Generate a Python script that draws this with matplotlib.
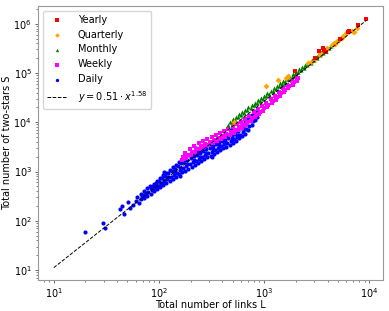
import numpy as np
import matplotlib
matplotlib.use("Agg")
import matplotlib.pyplot as plt

# (log10 L, log10 S) pairs
yearly_pts = [(3.29, 5.05), (3.48, 5.30), (3.52, 5.44), (3.56, 5.51), (3.57, 5.47), (3.59, 5.42),
              (3.72, 5.69), (3.80, 5.83), (3.81, 5.86), (3.89, 5.97), (3.97, 6.10)]

quarterly_pts = [(2.71, 4.01), (3.02, 4.74), (3.13, 4.86), (3.21, 4.90), (3.23, 4.93), (3.42, 5.20),
                 (3.44, 5.22), (3.48, 5.28), (3.53, 5.37), (3.53, 5.40), (3.59, 5.47), (3.60, 5.50),
                 (3.64, 5.57), (3.66, 5.61), (3.67, 5.59), (3.69, 5.64), (3.71, 5.67), (3.74, 5.71),
                 (3.75, 5.76), (3.78, 5.81), (3.83, 5.86), (3.85, 5.84), (3.88, 5.91)]

monthly_pts = [(2.66, 3.95), (2.67, 4.01), (2.69, 4.00), (2.70, 4.06), (2.72, 4.05), (2.73, 4.11),
               (2.75, 4.10), (2.76, 4.16), (2.78, 4.14), (2.79, 4.20), (2.81, 4.19), (2.82, 4.25),
               (2.84, 4.24), (2.85, 4.30), (2.87, 4.29), (2.88, 4.35), (2.90, 4.34), (2.91, 4.40),
               (2.93, 4.39), (2.94, 4.45), (2.96, 4.43), (2.97, 4.49), (2.99, 4.48), (3.00, 4.54),
               (3.02, 4.53), (3.03, 4.59), (3.05, 4.58), (3.06, 4.64), (3.08, 4.63), (3.09, 4.69),
               (3.11, 4.68), (3.12, 4.74), (3.14, 4.73), (3.15, 4.79), (3.17, 4.77), (3.18, 4.83),
               (3.20, 4.82), (3.21, 4.88), (3.23, 4.87), (3.24, 4.93), (3.26, 4.92), (3.27, 4.98),
               (3.29, 4.97), (3.30, 5.03), (3.32, 5.02), (3.33, 5.08), (3.35, 5.07), (3.36, 5.13),
               (3.38, 5.11), (3.39, 5.17), (3.41, 5.16), (3.42, 5.22), (3.44, 5.21), (3.45, 5.27),
               (3.47, 5.26), (3.48, 5.32), (3.50, 5.31), (3.51, 5.37), (3.53, 5.36), (3.54, 5.42),
               (3.56, 5.40), (3.57, 5.46), (3.59, 5.45), (3.60, 5.51), (3.62, 5.50), (3.63, 5.55)]

weekly_pts = [(2.22, 3.24), (2.23, 3.30), (2.26, 3.28), (2.27, 3.34), (2.25, 3.38),
              (2.30, 3.33), (2.31, 3.39), (2.29, 3.45), (2.34, 3.39), (2.35, 3.45), (2.33, 3.51),
              (2.39, 3.45), (2.40, 3.51), (2.38, 3.57), (2.43, 3.49), (2.44, 3.55), (2.42, 3.61),
              (2.47, 3.54), (2.48, 3.60), (2.46, 3.66), (2.51, 3.58), (2.52, 3.64), (2.50, 3.70),
              (2.55, 3.62), (2.56, 3.68), (2.54, 3.74), (2.59, 3.66), (2.60, 3.72), (2.58, 3.78),
              (2.63, 3.70), (2.64, 3.76), (2.62, 3.82), (2.67, 3.74), (2.68, 3.80), (2.66, 3.86),
              (2.71, 3.79), (2.72, 3.85), (2.70, 3.91), (2.75, 3.84), (2.76, 3.90), (2.74, 3.96),
              (2.79, 3.89), (2.80, 3.95), (2.78, 4.01), (2.83, 3.94), (2.84, 4.00), (2.82, 4.06),
              (2.87, 4.02), (2.88, 4.08), (2.86, 4.13), (2.91, 4.10), (2.92, 4.15), (2.90, 4.20),
              (2.95, 4.16), (2.96, 4.21), (2.94, 4.26), (2.99, 4.23), (3.00, 4.28), (2.98, 4.32),
              (3.03, 4.31), (3.04, 4.36), (3.02, 4.39), (3.07, 4.39), (3.08, 4.44), (3.06, 4.47),
              (3.11, 4.46), (3.12, 4.51), (3.10, 4.54), (3.15, 4.54), (3.16, 4.59), (3.14, 4.61),
              (3.19, 4.61), (3.20, 4.66), (3.18, 4.69), (3.23, 4.69), (3.24, 4.74), (3.22, 4.76),
              (3.27, 4.76), (3.28, 4.81), (3.26, 4.83), (3.31, 4.84), (3.32, 4.90), (3.30, 4.91)]

daily_pts = [(1.30, 1.78), (1.47, 1.95), (1.49, 1.86), (1.63, 2.24), (1.65, 2.29), (1.67, 2.13),
             (1.71, 2.38), (1.72, 2.25), (1.75, 2.31), (1.78, 2.40), (1.79, 2.49), (1.81, 2.36),
             (1.83, 2.45), (1.84, 2.50), (1.83, 2.55), (1.86, 2.47), (1.87, 2.53), (1.86, 2.60),
             (1.89, 2.51), (1.90, 2.58), (1.89, 2.66), (1.92, 2.55), (1.93, 2.62), (1.92, 2.67), (1.91, 2.71),
             (1.95, 2.60), (1.96, 2.66), (1.94, 2.70), (1.95, 2.75), (1.98, 2.65), (1.99, 2.71), (1.97, 2.76), (1.98, 2.81),
             (2.01, 2.69), (2.02, 2.75), (2.00, 2.80), (2.01, 2.86), (2.04, 2.73), (2.05, 2.80), (2.03, 2.86), (2.04, 2.92),
             (2.07, 2.77), (2.08, 2.84), (2.06, 2.90), (2.07, 2.97), (2.10, 2.81), (2.11, 2.88), (2.09, 2.96), (2.10, 3.03),
             (2.13, 2.85), (2.14, 2.93), (2.12, 3.01), (2.13, 3.09), (2.16, 2.89), (2.17, 2.97), (2.15, 3.06), (2.16, 3.14),
             (2.19, 2.94), (2.20, 3.03), (2.18, 3.11), (2.19, 3.20), (2.22, 2.99), (2.23, 3.08), (2.21, 3.17), (2.22, 3.26),
             (2.25, 3.02), (2.26, 3.11), (2.24, 3.20), (2.25, 3.29), (2.28, 3.06), (2.29, 3.15), (2.27, 3.24), (2.28, 3.33),
             (2.31, 3.10), (2.32, 3.19), (2.30, 3.27), (2.31, 3.36), (2.34, 3.14), (2.35, 3.22), (2.33, 3.31), (2.34, 3.39),
             (2.37, 3.18), (2.38, 3.26), (2.36, 3.34), (2.37, 3.42), (2.40, 3.21), (2.41, 3.29), (2.39, 3.37), (2.40, 3.45),
             (2.43, 3.25), (2.44, 3.33), (2.42, 3.41), (2.43, 3.49), (2.46, 3.29), (2.47, 3.37), (2.45, 3.45), (2.46, 3.53),
             (2.49, 3.32), (2.50, 3.40), (2.48, 3.48), (2.49, 3.56), (2.52, 3.36), (2.53, 3.44), (2.51, 3.52), (2.52, 3.60),
             (2.55, 3.40), (2.56, 3.48), (2.54, 3.56), (2.55, 3.64), (2.58, 3.44), (2.59, 3.52), (2.57, 3.59), (2.58, 3.67),
             (2.61, 3.47), (2.62, 3.55), (2.60, 3.62), (2.61, 3.70), (2.64, 3.50), (2.65, 3.58), (2.63, 3.65), (2.64, 3.73),
             (2.67, 3.54), (2.68, 3.62), (2.66, 3.69), (2.67, 3.77), (2.70, 3.57), (2.71, 3.65), (2.69, 3.72), (2.70, 3.80),
             (2.73, 3.62), (2.74, 3.70), (2.72, 3.77), (2.73, 3.85), (2.76, 3.67), (2.77, 3.75), (2.75, 3.83), (2.76, 3.91),
             (2.79, 3.72), (2.80, 3.80), (2.78, 3.89), (2.79, 3.97), (2.82, 3.77), (2.83, 3.86), (2.81, 3.94), (2.82, 4.03),
             (2.85, 3.84), (2.86, 3.92), (2.84, 4.00), (2.85, 4.08), (2.88, 3.95), (2.89, 4.02), (2.87, 4.09), (2.88, 4.15),
             (2.91, 4.04), (2.92, 4.12), (2.90, 4.20), (2.93, 4.10), (2.94, 4.18), (2.93, 4.25),
             (2.05, 3.00), (2.20, 2.90), (2.35, 3.48), (2.50, 3.30), (2.68, 3.85),
             (1.85, 2.52), (1.88, 2.57), (1.97, 2.70), (2.03, 2.77), (2.09, 2.88), (2.15, 2.98),
             (2.21, 3.08), (2.27, 3.16), (2.33, 3.24), (2.39, 3.30), (2.45, 3.38), (2.51, 3.46),
             (2.57, 3.53), (2.63, 3.60), (2.69, 3.66), (2.75, 3.74), (2.81, 3.86), (2.87, 4.02)]

# power-law fit: label as printed, line as drawn
fit_label = r'$y = 0.51 \cdot x^{1.58}$'
fit_coef = 0.228
fit_exp = 1.69
fit_L = np.array([10, 9400])

series = [
    ('Yearly', yearly_pts, 'red', 's', 6),
    ('Quarterly', quarterly_pts, 'orange', 'D', 5),
    ('Monthly', monthly_pts, 'green', '^', 4),
    ('Weekly', weekly_pts, 'magenta', 's', 3),
    ('Daily', daily_pts, 'blue', 'o', 2),
]

plt.rcParams['font.size'] = 7

fig = plt.figure(figsize=(3.89, 3.11), dpi=100)
ax = fig.add_axes([0.098, 0.1, 0.887, 0.881])

for name, pts, color, marker, z in series:
    logL, logS = np.array(pts).T
    ax.scatter(10 ** logL, 10 ** logS, s=9, c=color, marker=marker,
               linewidths=0, label=name, zorder=z)

ax.plot(fit_L, fit_coef * fit_L ** fit_exp, '--', color='black', lw=0.7,
        label=fit_label, zorder=7)

ax.set_xscale('log')
ax.set_yscale('log')
ax.set_xlim(7.1, 13500)
ax.set_ylim(6.3, 2.3e6)
ax.set_xlabel('Total number of links L')
ax.set_ylabel('Total number of two-stars S')
ax.xaxis.set_label_coords(0.5, -0.075)
ax.yaxis.set_label_coords(-0.077, 0.5)

for sp in ax.spines.values():
    sp.set_color('0.6')
ax.tick_params(which='major', length=2.5, width=0.6, pad=2, color='0.3')
ax.tick_params(which='minor', length=1.5, width=0.5, color='0.3')

leg = ax.legend(loc='upper left', scatterpoints=1, fontsize=7, markerscale=0.8,
                borderaxespad=0.5, handletextpad=1.2)

fig.savefig('out.png', dpi=100)
